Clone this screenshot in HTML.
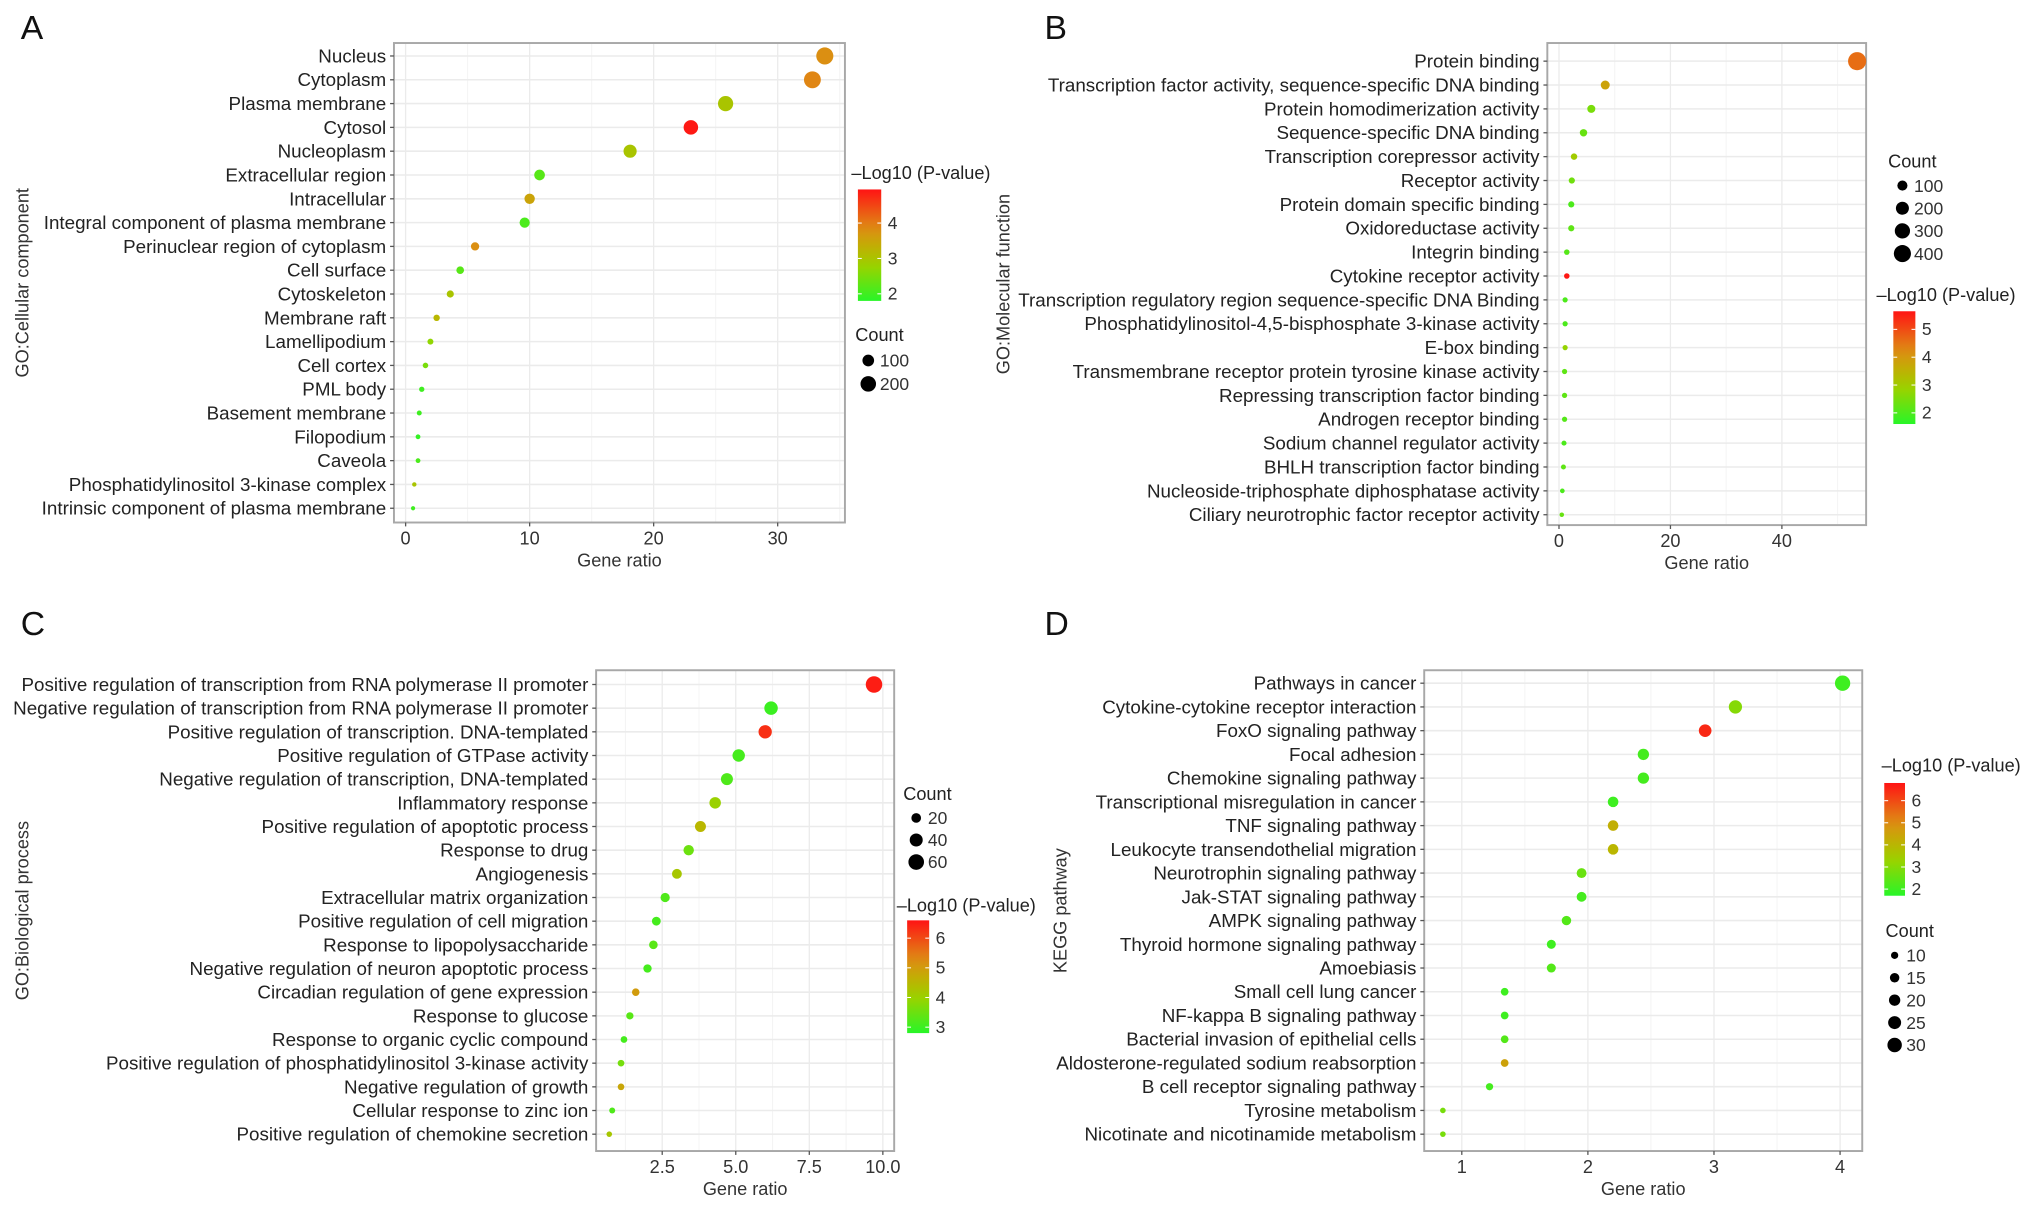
<!DOCTYPE html>
<html><head><meta charset="utf-8"><style>
html,body{margin:0;padding:0;background:#fff;}
svg{display:block;font-family:"Liberation Sans",Arial,sans-serif;}
</style></head><body>
<svg id="fig" width="2032" height="1207" viewBox="0 0 1568 931" xmlns="http://www.w3.org/2000/svg"></svg>
<script>
// ---------- Panel A data ----------
const aTerms=["Nucleus","Cytoplasm","Plasma membrane","Cytosol","Nucleoplasm","Extracellular region","Intracellular","Integral component of plasma membrane","Perinuclear region of cytoplasm","Cell surface","Cytoskeleton","Membrane raft","Lamellipodium","Cell cortex","PML body","Basement membrane","Filopodium","Caveola","Phosphatidylinositol 3-kinase complex","Intrinsic component of plasma membrane"];
const aRatio=[33.8,32.8,25.8,23.0,18.1,10.8,10.0,9.6,5.6,4.4,3.6,2.5,2.0,1.6,1.3,1.1,1.0,1.0,0.7,0.6];
const aCount=[250,243,191,170,134,80,74,71,41,33,27,19,15,12,10,8,7,7,5,4];
const aLogP=[3.8,3.9,3.0,4.9,3.0,2.2,3.5,2.1,3.8,2.2,3.0,3.2,2.7,2.5,2.0,2.0,1.9,2.1,3.0,2.0];
const aXTicks=[0,10,20,30];
const aColorTicks=[2,3,4];
const aSizeTicks=[100,200];
// ---------- Panel B data ----------
const bTerms=["Protein binding","Transcription factor activity, sequence-specific DNA binding","Protein homodimerization activity","Sequence-specific DNA binding","Transcription corepressor activity","Receptor activity","Protein domain specific binding","Oxidoreductase activity","Integrin binding","Cytokine receptor activity","Transcription regulatory region sequence-specific DNA Binding","Phosphatidylinositol-4,5-bisphosphate 3-kinase activity","E-box binding","Transmembrane receptor protein tyrosine kinase activity","Repressing transcription factor binding","Androgen receptor binding","Sodium channel regulator activity","BHLH transcription factor binding","Nucleoside-triphosphate diphosphatase activity","Ciliary neurotrophic factor receptor activity"];
const bRatio=[53.5,8.3,5.8,4.4,2.7,2.3,2.2,2.2,1.4,1.4,1.1,1.1,1.1,1.0,1.0,1.0,0.9,0.8,0.6,0.5];
const bCount=[460,71,50,38,23,20,19,19,12,12,9,9,9,9,9,9,8,7,5,4];
const bLogP=[4.6,3.8,2.5,2.3,3.0,2.4,2.0,2.2,2.1,5.6,2.0,2.0,2.8,2.2,2.2,2.1,2.0,2.2,2.0,2.3];
const bXTicks=[0,20,40];
const bColorTicks=[2,3,4,5];
const bSizeTicks=[100,200,300,400];
// ---------- Panel C data ----------
const cTerms=["Positive regulation of transcription from RNA polymerase II promoter","Negative regulation of transcription from RNA polymerase II promoter","Positive regulation of transcription. DNA-templated","Positive regulation of GTPase activity","Negative regulation of transcription, DNA-templated","Inflammatory response","Positive regulation of apoptotic process","Response to drug","Angiogenesis","Extracellular matrix organization","Positive regulation of cell migration","Response to lipopolysaccharide","Negative regulation of neuron apoptotic process","Circadian regulation of gene expression","Response to glucose","Response to organic cyclic compound","Positive regulation of phosphatidylinositol 3-kinase activity","Negative regulation of growth","Cellular response to zinc ion","Positive regulation of chemokine secretion"];
const cRatio=[9.7,6.2,6.0,5.1,4.7,4.3,3.8,3.4,3.0,2.6,2.3,2.2,2.0,1.6,1.4,1.2,1.1,1.1,0.8,0.7];
const cCount=[68,43,42,36,33,30,27,24,21,18,16,15,14,11,10,8,8,8,6,5];
const cLogP=[6.5,3.0,6.3,3.1,3.2,4.0,4.5,3.5,4.2,3.2,3.1,3.3,3.1,5.0,3.3,3.1,3.6,4.8,3.2,4.2];
const cXTicks=[2.5,5.0,7.5,10.0];
const cXTickLabels=["2.5","5.0","7.5","10.0"];
const cColorTicks=[3,4,5,6];
const cSizeTicks=[20,40,60];
// ---------- Panel D data ----------
const dTerms=["Pathways in cancer","Cytokine-cytokine receptor interaction","FoxO signaling pathway","Focal adhesion","Chemokine signaling pathway","Transcriptional misregulation in cancer","TNF signaling pathway","Leukocyte transendothelial migration","Neurotrophin signaling pathway","Jak-STAT signaling pathway","AMPK signaling pathway","Thyroid hormone signaling pathway","Amoebiasis","Small cell lung cancer","NF-kappa B signaling pathway","Bacterial invasion of epithelial cells","Aldosterone-regulated sodium reabsorption","B cell receptor signaling pathway","Tyrosine metabolism","Nicotinate and nicotinamide metabolism"];
const dRatio=[4.02,3.17,2.93,2.44,2.44,2.2,2.2,2.2,1.95,1.95,1.83,1.71,1.71,1.34,1.34,1.34,1.34,1.22,0.85,0.85];
const dCount=[33,26,24,20,20,18,18,18,16,16,15,14,14,11,11,11,11,10,7,7];
const dLogP=[2.0,3.0,6.5,2.1,2.1,2.0,4.2,4.0,2.6,2.1,2.3,2.0,2.3,2.0,2.0,2.3,4.5,2.1,2.8,2.8];
const dXTicks=[1,2,3,4];
const dColorTicks=[2,3,4,5,6];
const dSizeTicks=[10,15,20,25,30];

const NS="http://www.w3.org/2000/svg";
const svg=document.getElementById('fig');
function mk(tag,attrs,parent,text){const e=document.createElementNS(NS,tag);for(const k in attrs)e.setAttribute(k,attrs[k]);if(text!==undefined)e.textContent=text;(parent||svg).appendChild(e);return e;}
const stops=[[0,[40,245,40]],[0.3,[150,212,0]],[0.45,[186,182,0]],[0.65,[222,140,20]],[1,[255,20,20]]];
function grad(t){t=Math.max(0,Math.min(1,t));for(let i=1;i<stops.length;i++){if(t<=stops[i][0]){const a=stops[i-1],b=stops[i];const f=(t-a[0])/(b[0]-a[0]);const c=a[1].map((v,j)=>Math.round(v+(b[1][j]-v)*f));return `rgb(${c[0]},${c[1]},${c[2]})`;}}return 'rgb(255,20,20)';}
let gid=0;
function panel(p){
  const g=mk('g',{});
  
  
  const L=p.box[0],T=p.box[1],R=p.box[2],B=p.box[3];
  const x=v=>p.x0px+(v-p.x0)*p.xs;
  const n=p.terms.length;
  const step=(p.yLast-p.yFirst)/(n-1);
  const y=i=>p.yFirst+i*step;
  mk('rect',{x:L,y:T,width:R-L,height:B-T,fill:'#fff'},g);
  for(let i=0;i<p.ticks.length+1;i++){
    const d=p.ticks.length>1?p.ticks[1]-p.ticks[0]:10;
    const v=(i===0?p.ticks[0]-d/2:p.ticks[i-1]+d/2);
    if(x(v)>L&&x(v)<R)mk('line',{x1:x(v),x2:x(v),y1:T,y2:B,stroke:'#f4f4f4','stroke-width':0.8},g);
  }
  p.ticks.forEach(v=>{const l=mk('line',{x1:x(v),x2:x(v),y1:T,y2:B,stroke:'#ebebeb','stroke-width':1},g);});
  p.terms.forEach((t,i)=>{mk('line',{x1:L,x2:R,y1:y(i),y2:y(i),stroke:'#ebebeb','stroke-width':1.2},g);});
  mk('rect',{x:L,y:T,width:R-L,height:B-T,fill:'none',stroke:'#a8a8a8','stroke-width':1.5},g);
  p.terms.forEach((t,i)=>{
    mk('line',{x1:L-3,x2:L,y1:y(i),y2:y(i),stroke:'#555','stroke-width':1},g);
    const tx=mk('text',{x:L-6,y:y(i)+5,'text-anchor':'end','font-size':14.5,fill:'#222'},g,t);
    
    
  });
  p.ticks.forEach((v,i)=>{
    mk('line',{x1:x(v),x2:x(v),y1:B,y2:B+3,stroke:'#555','stroke-width':1},g);
    const tx=mk('text',{x:x(v),y:B+17,'text-anchor':'middle','font-size':14,fill:'#333'},g,p.tickLabels?p.tickLabels[i]:String(v));
    
    
  });
  const xt=mk('text',{x:(L+R)/2,y:B+34,'text-anchor':'middle','font-size':14,fill:'#333'},g,'Gene ratio');
  
  
  const yt=mk('text',{x:p.yTitleX,y:(T+B)/2,'text-anchor':'middle','font-size':14,fill:'#333',transform:`rotate(-90 ${p.yTitleX} ${(T+B)/2})`},g,p.yTitle);
  
  
  const lt=mk('text',{x:p.letter[0],y:p.letter[1],'font-size':26,fill:'#111'},g,p.letterText);
  
  
  const col=v=>grad((v-p.cmin)/(p.cmax-p.cmin));
  p.ratio.forEach((v,i)=>{
    const c=mk('circle',{cx:x(v),cy:y(i),r:p.rf(p.count[i]),fill:col(p.logp[i])},g);
    
    
  });
  const cb=p.cbar;
  const id='g'+(gid++);
  const defs=mk('defs',{},g);
  const lg=mk('linearGradient',{id:id,x1:0,y1:1,x2:0,y2:0},defs);
  for(let k=0;k<=10;k++)mk('stop',{offset:k/10,'stop-color':grad(k/10)},lg);
  const ctt=mk('text',{x:cb[4],y:cb[5],'font-size':14,fill:'#222'},g,'\u2013Log10 (P-value)');
  
  
  const bar=mk('rect',{x:cb[0],y:cb[1],width:cb[2],height:cb[3],fill:`url(#${id})`},g);
  
  
  p.cticks.forEach(v=>{
    const yy=cb[1]+cb[3]*(1-(v-p.cmin)/(p.cmax-p.cmin));
    mk('line',{x1:cb[0],x2:cb[0]+3,y1:yy,y2:yy,stroke:'#fff','stroke-width':0.8},g);
    mk('line',{x1:cb[0]+cb[2]-3,x2:cb[0]+cb[2],y1:yy,y2:yy,stroke:'#fff','stroke-width':0.8},g);
    const t=mk('text',{x:cb[0]+cb[2]+5,y:yy+4.5,'font-size':13.5,fill:'#333'},g,String(v));
    
    
  });
  const sl=p.slegend;
  const st=mk('text',{x:sl[0],y:sl[1],'font-size':14,fill:'#222'},g,'Count');
  
  
  p.sticks.forEach((v,i)=>{
    const yy=sl[3]+i*sl[4];
    const c=mk('circle',{cx:sl[2],cy:yy,r:p.rf(v),fill:'#000'},g);
    
    
    const t=mk('text',{x:sl[2]+9,y:yy+4.8,'font-size':13.5,fill:'#333'},g,String(v));
    
    
  });
}
panel({name:'panel-a-cellular-component',box:[304,33,652,403],terms:aTerms,ratio:aRatio,count:aCount,logp:aLogP,ticks:aXTicks,
 x0:0,x0px:313,xs:9.57,yFirst:43,yLast:392,yTitle:'GO:Cellular component',yTitleX:22,letter:[16,30],letterText:'A',
 cmin:1.8,cmax:4.95,cticks:aColorTicks,cbar:[662,146,18,86,657,138],rf:c=>0.9+0.36*Math.sqrt(c),sticks:aSizeTicks,slegend:[660,263,670,278,18]});
panel({name:'panel-b-molecular-function',box:[1194,33,1440,405],terms:bTerms,ratio:bRatio,count:bCount,logp:bLogP,ticks:bXTicks,
 x0:0,x0px:1203,xs:4.3,yFirst:47,yLast:397,yTitle:'GO:Molecular function',yTitleX:779,letter:[806,30],letterText:'B',
 cmin:1.6,cmax:5.65,cticks:bColorTicks,cbar:[1461,240,17,87,1448,232],rf:c=>1.2+0.27*Math.sqrt(c),sticks:bSizeTicks,slegend:[1457,129,1468,143,17.5]});
panel({name:'panel-c-biological-process',box:[460,517,690,888],terms:cTerms,ratio:cRatio,count:cCount,logp:cLogP,ticks:cXTicks,tickLabels:cXTickLabels,
 x0:2.5,x0px:511,xs:22.7,yFirst:528,yLast:875,yTitle:'GO:Biological process',yTitleX:22,letter:[16,490],letterText:'C',
 cmin:2.8,cmax:6.6,cticks:cColorTicks,cbar:[700,710,17,87,692,703],rf:c=>0.6+0.7*Math.sqrt(c),sticks:cSizeTicks,slegend:[697,617,707,631,17]});
panel({name:'panel-d-kegg-pathway',box:[1099,517,1437,888],terms:dTerms,ratio:dRatio,count:dCount,logp:dLogP,ticks:dXTicks,
 x0:1,x0px:1128,xs:97.3,yFirst:527,yLast:875,yTitle:'KEGG pathway',yTitleX:823,letter:[806,490],letterText:'D',
 cmin:1.7,cmax:6.8,cticks:dColorTicks,cbar:[1454,604,16,87,1452,595],rf:c=>-1+1.2*Math.sqrt(c),sticks:dSizeTicks,slegend:[1455,723,1462,737,17.3]});
</script>
</body></html>
